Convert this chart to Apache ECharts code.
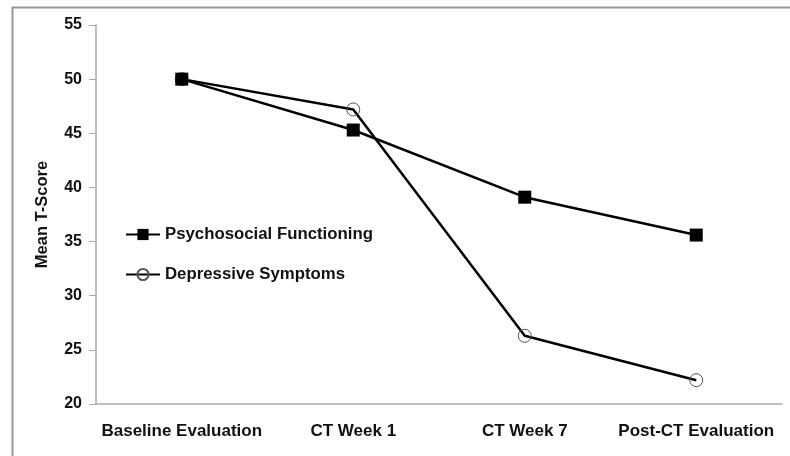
<!DOCTYPE html>
<html><head><meta charset="utf-8">
<script src="https://cdn.jsdelivr.net/npm/echarts@6/dist/echarts.min.js"></script>
<style>html,body{margin:0;padding:0;background:#fff}#c{width:790px;height:456px}</style>
</head><body><div id="c"></div>
<script>
var categories = ['Baseline Evaluation', 'CT Week 1', 'CT Week 7', 'Post-CT Evaluation'];
var psychosocial = [50.0, 45.3, 39.1, 35.6];
var depressive = [50.0, 47.2, 26.3, 22.2];
var yTicks = [20, 25, 30, 35, 40, 45, 50, 55];

var chart = echarts.init(document.getElementById('c'));
var font = 'Liberation Sans, Arial, sans-serif';
chart.setOption({
  animation: false,
  backgroundColor: '#fff',
  graphic: [{
    type: 'rect', left: 10, top: 5,
    shape: { width: 800, height: 470 },
    style: { fill: 'none', stroke: '#999', lineWidth: 2 },
    silent: true
  }],
  grid: { left: 96, right: 8, top: 25, bottom: 52 },
  legend: {
    left: 120, top: 221, orient: 'vertical', itemGap: 23,
    itemWidth: 34, itemHeight: 14,
    textStyle: { fontFamily: font, fontSize: 16.8, fontWeight: 'bold', color: '#111' },
    data: ['Psychosocial Functioning', 'Depressive Symptoms']
  },
  xAxis: {
    type: 'category', data: categories, boundaryGap: true,
    axisLine: { lineStyle: { color: '#aaa', width: 1.5 } },
    axisTick: { show: false },
    axisLabel: { fontFamily: font, fontSize: 17, fontWeight: 'bold', color: '#111', margin: 19, interval: 0 }
  },
  yAxis: {
    type: 'value', min: yTicks[0], max: yTicks[yTicks.length - 1], interval: 5,
    name: 'Mean T-Score', nameLocation: 'middle', nameGap: 45,
    nameTextStyle: { fontFamily: font, fontSize: 16.5, fontWeight: 'bold', color: '#111' },
    axisLine: { show: true, lineStyle: { color: '#aaa', width: 1.5 } },
    axisTick: { show: true, length: 7, lineStyle: { color: '#aaa' } },
    splitLine: { show: false },
    axisLabel: { fontFamily: font, fontSize: 16, fontWeight: 'bold', color: '#111', margin: 14 }
  },
  series: [{
    name: 'Psychosocial Functioning', type: 'line', data: psychosocial,
    symbol: 'rect', symbolSize: 13,
    lineStyle: { color: '#000', width: 2.5 },
    itemStyle: { color: '#000', borderColor: '#000', borderWidth: 0 },
    z: 3
  }, {
    name: 'Depressive Symptoms', type: 'line', data: depressive,
    symbol: 'circle', symbolSize: 13,
    lineStyle: { color: '#000', width: 2.5 },
    itemStyle: { color: 'rgba(255,255,255,0)', borderColor: '#555', borderWidth: 1 },
    z: 2
  }]
});
</script></body></html>
